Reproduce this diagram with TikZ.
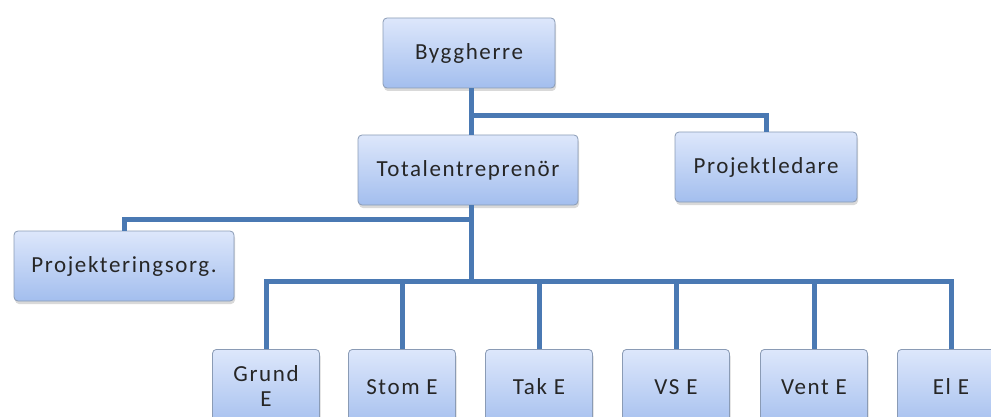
\documentclass[tikz,border=0pt]{standalone}
\usepackage{fontspec}
\setmainfont{Carlito}[LetterSpace=7]
\usetikzlibrary{shadows}
\definecolor{boxtop}{HTML}{DDE7FB}
\definecolor{boxbot}{HTML}{A3BEEE}
\definecolor{boxrim}{HTML}{8A9BB5}
\definecolor{link}{HTML}{4A79B3}

\begin{document}
\begin{tikzpicture}[x=1pt,y=-1pt,
		%Option for boxes and links%
		orgbox/.style={draw=boxrim,line width=0.8pt,rounded corners=4pt,
			top color=boxtop,bottom color=boxbot,
			drop shadow={shadow xshift=1pt,shadow yshift=-3pt,opacity=0.3},
			minimum height=70pt,inner sep=2pt,align=center,text=black!85,
			font=\fontsize{23}{25}\selectfont},%
		subbox/.style={orgbox,minimum width=107pt,minimum height=80pt,anchor=north},%
		link/.style={draw=link,line width=5pt}%
		]
	\useasboundingbox (0,0) rectangle (991,417);
	\clip (0,0) rectangle (991,417);
	%% upper levels
	\node[orgbox,minimum width=172pt] (bygg) at (469,53) {Byggherre};
	\node[orgbox,minimum width=220pt] (total) at (468,170) {Totalentreprenör};
	\node[orgbox,minimum width=182pt] (projl) at (766,167) {Projektledare};
	\node[orgbox,minimum width=220pt] (projo) at (124,266) {Projekteringsorg.};
	%% contractors
	\node[subbox] (grund) at (266,349) {\raisebox{5pt}{\begin{tabular}{@{}c@{}}Grund\\E\end{tabular}}};
	\node[subbox] (stom) at (402,349) {\raisebox{5pt}{Stom E}};
	\node[subbox] (tak) at (539,349) {\raisebox{5pt}{Tak E}};
	\node[subbox] (vs) at (676,349) {\raisebox{5pt}{VS E}};
	\node[subbox] (vent) at (814,349) {\raisebox{5pt}{Vent E}};
	\node[subbox] (el) at (951,349) {\raisebox{5pt}{El E}};
	%% junctions
	\coordinate (j1) at (471,116);
	\coordinate (j2) at (471,219);
	\coordinate (j3) at (471,281);
	%% links
	\draw[link] (bygg.south -| j1) -- (j1) -| (projl.north);
	\draw[link] (j1) -- (total.north -| j1);
	\draw[link] (total.south -| j1) -- (j3);
	\draw[link] (j2) -| (projo.north);
	\foreach \n in {grund,stom,tak,vs,vent,el}
		\draw[link] (j3) -| (\n.north);
\end{tikzpicture}
\end{document}
